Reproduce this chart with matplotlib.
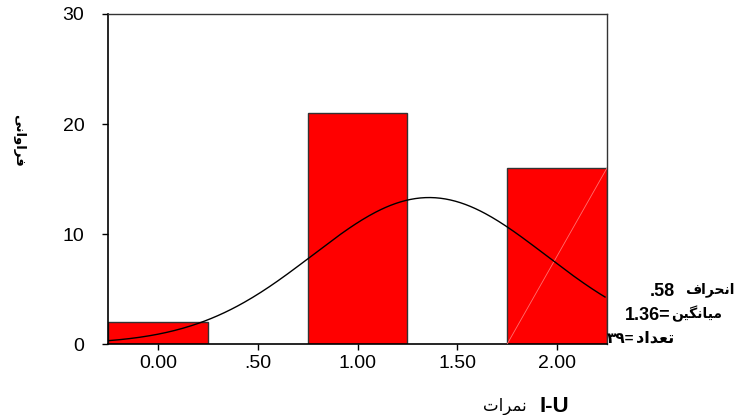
import numpy as np
import matplotlib
matplotlib.use("Agg")
import matplotlib.pyplot as plt

# ---- data ----
scores = [0.0, 1.0, 2.0]          # bin centres
counts = [2, 21, 16]              # frequencies
bin_width = 0.5
xticks = [0.0, 0.5, 1.0, 1.5, 2.0]
xtick_labels = ["0.00", ".50", "1.00", "1.50", "2.00"]
yticks = [0, 10, 20, 30]

# Persian labels (presentation forms, visual order)
ylabel_txt = "\uFEF0\uFEE7\uFE8D\uFEED\uFE8D\uFEAE\uFED3"          # فراوانی
xlabel_word = "\uFE95\uFE8D\uFEAE\uFEE4\uFEE7"                       # نمرات
xlabel_code = "I-U"
sd_word = "\uFED1\uFE8D\uFEAE\uFEA4\uFEE7\uFE8D"                     # انحراف
mean_word = "\uFEE6\uFEF4\uFB95\uFEE7\uFE8E\uFEF4\uFEE3"             # میانگین
n_word = "\uFEA9\uFE8D\uFEAA\uFECC\uFE97"                            # تعداد
n_digits = "\u06F3\u06F9"                                            # ۳۹
sd_val = ".58"
mean_val = "1.36"

fam = ["Liberation Sans", "DejaVu Sans"]

fig = plt.figure(figsize=(7.38, 4.15), dpi=100)
W, H = 738, 415
ax = fig.add_axes([108 / W, 1 - 344 / H, (607 - 108) / W, (344 - 14) / H])

ax.bar(scores, counts, width=bin_width, color="#ff0000", edgecolor="#333333",
       linewidth=1.0, zorder=2)

# faint diagonal artifact in last bar
lx = scores[-1] - bin_width / 2
rx = scores[-1] + bin_width / 2
ax.plot([lx, rx], [0, counts[-1]], color="#ff7070", lw=0.6, zorder=3)

# normal curve
vals = np.repeat(scores, counts)
mu = vals.mean()
sd = vals.std(ddof=1)
xs = np.linspace(-0.25, 2.24, 300)
ys = len(vals) * bin_width * np.exp(-0.5 * ((xs - mu) / sd) ** 2) / (sd * np.sqrt(2 * np.pi))
ax.plot(xs, ys, color="black", lw=1.0, zorder=4)

ax.set_xlim(-0.25, 2.25)
ax.set_ylim(0, 30)
ax.set_xticks(xticks)
ax.set_xticklabels(xtick_labels, fontsize=14, family=fam)
ax.set_yticks(yticks)
ax.set_yticklabels([str(v) for v in yticks], fontsize=14, family=fam)
ax.tick_params(axis="y", direction="out", length=4, width=1, pad=13)
ax.tick_params(axis="x", direction="out", length=4, width=1, pad=4)
for s in ["left", "bottom"]:
    ax.spines[s].set_linewidth(1.2)
    ax.spines[s].set_color("black")
for s in ["top", "right"]:
    ax.spines[s].set_linewidth(1.0)
    ax.spines[s].set_color("#333333")

# y label
fig.text(19 / W, 1 - 140 / H, ylabel_txt, rotation=270, ha="center", va="center",
         fontsize=9.5, fontweight="bold", family=fam)

# x label
fig.text(569 / W, 1 - 406 / H, xlabel_code, ha="right", va="center",
         fontsize=16, fontweight="bold", family=fam)
fig.text(527 / W, 1 - 406 / H, xlabel_word, ha="right", va="center",
         fontsize=12, family=fam)

# stats text on right
fig.text(650 / W, 1 - 291 / H, sd_val, ha="left", va="center",
         fontsize=13, fontweight="bold", family=fam)
fig.text(735 / W, 1 - 290 / H, sd_word, ha="right", va="center",
         fontsize=10, fontweight="bold", family=fam)
fig.text(625 / W, 1 - 315 / H, mean_val + "=", ha="left", va="center",
         fontsize=13, fontweight="bold", family=fam)
fig.text(722 / W, 1 - 314 / H, mean_word, ha="right", va="center",
         fontsize=10, fontweight="bold", family=fam)
fig.text(607 / W, 1 - 339 / H, n_digits + "=", ha="left", va="center",
         fontsize=11, fontweight="bold", family=fam)
fig.text(674 / W, 1 - 338 / H, n_word, ha="right", va="center",
         fontsize=11.5, fontweight="bold", family=fam)

fig.savefig("out.png", dpi=100)
